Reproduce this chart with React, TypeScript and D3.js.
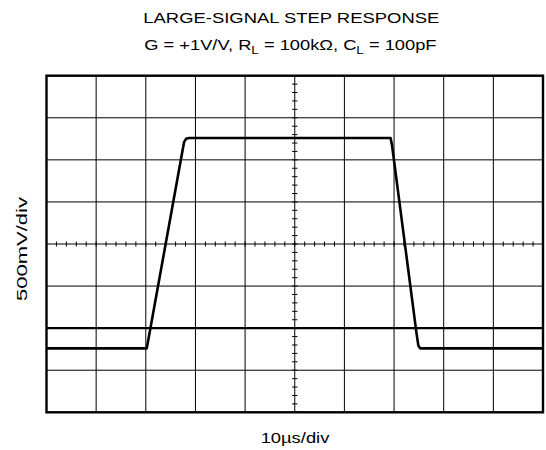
import React, { useRef, useLayoutEffect, useState } from 'react';
import * as d3 from 'd3';

// Output trace (time in µs, voltage in V, 0 V at screen centre)
const timeUs = [0, 20.2, 27.7, 28.1, 28.7, 69.3, 69.6, 74.5, 74.9, 75.25, 100];
const outputV = [-1.24, -1.24, 1.21, 1.25, 1.26, 1.26, 1.17, -1.05, -1.21, -1.24, -1.24];
// Second (reference) trace
const refTimeUs = [0, 100];
const refV = [-1.0, -1.0];

const xDomain = [0, 100];
const yDomain = [-2, 2];
const xDivs = d3.range(0, 100.001, 10);
const yDivs = d3.range(-2, 2.001, 0.5);
const xMinor = d3.range(0, 100.001, 2);
const yMinor = d3.range(-2, 2.001, 0.1);

const title = 'LARGE-SIGNAL STEP RESPONSE';
const xLabel = '10\u00b5s/div';
const yLabel = '500mV/div';

const W = 546, H = 450;
const P = { left: 46.5, right: 543, top: 75.7, bottom: 412.3 };
const FONT = '"Liberation Sans", Arial, Helvetica, sans-serif';

function Subtitle() {
  const ref = useRef<SVGTextElement>(null);
  const [s, setS] = useState(1);
  useLayoutEffect(() => {
    if (ref.current) {
      const w = ref.current.getBBox().width;
      if (w > 0) setS(292.7 / w);
    }
  }, []);
  return (
    <g transform={`translate(290.4,50) scale(${s},1)`}>
      <text ref={ref} textAnchor="middle" fontSize={15} fontFamily={FONT} fill="#000">
        G = +1V/V, R<tspan fontSize={11} dy={3.5}>L</tspan>
        <tspan dy={-3.5}>{' = 100k\u03a9, C'}</tspan>
        <tspan fontSize={11} dy={3.5}>L</tspan>
        <tspan dy={-3.5}>{' = 100pF'}</tspan>
      </text>
    </g>
  );
}

export default function App() {
  const x = d3.scaleLinear().domain(xDomain).range([P.left, P.right]);
  const y = d3.scaleLinear().domain(yDomain).range([P.bottom, P.top]);
  const line = d3.line<[number, number]>().x(d => x(d[0])).y(d => y(d[1]));
  const out = line(timeUs.map((t, i) => [t, outputV[i]]));
  const ref = line(refTimeUs.map((t, i) => [t, refV[i]]));
  const cx = x(50), cy = y(0);

  return (
    <svg width={W} height={H} style={{ position: 'absolute', left: 0, top: 0, background: '#fff' }}>
      <rect x={0} y={0} width={W} height={H} fill="#fff" />
      <text x={291.3} y={23.3} textAnchor="middle" fontSize={15} fontFamily={FONT}
        textLength={296} lengthAdjust="spacingAndGlyphs">{title}</text>
      <Subtitle />
      {/* grid */}
      {xDivs.map(v => (
        <line key={'vx' + v} x1={x(v)} x2={x(v)} y1={P.top} y2={P.bottom} stroke="#000" strokeWidth={1} />
      ))}
      {yDivs.map(v => (
        <line key={'hy' + v} x1={P.left} x2={P.right} y1={y(v)} y2={y(v)} stroke="#000" strokeWidth={1} />
      ))}
      {/* minor ticks on centre axes */}
      {xMinor.map(v => (
        <line key={'tx' + v} x1={x(v)} x2={x(v)} y1={cy - 2.5} y2={cy + 2.5} stroke="#000" strokeWidth={1} />
      ))}
      {yMinor.map(v => (
        <line key={'ty' + v} x1={cx - 2.7} x2={cx + 2.7} y1={y(v)} y2={y(v)} stroke="#000" strokeWidth={1} />
      ))}
      {/* traces */}
      <path d={ref ?? ''} fill="none" stroke="#000" strokeWidth={2.2} />
      <path d={out ?? ''} fill="none" stroke="#000" strokeWidth={2.6} strokeLinejoin="round" />
      {/* frame */}
      <rect x={P.left} y={P.top} width={P.right - P.left} height={P.bottom - P.top} fill="none" stroke="#000" strokeWidth={2.4} />
      {/* axis labels */}
      <text x={295} y={443.3} textAnchor="middle" fontSize={15} fontFamily={FONT}
        textLength={68.7} lengthAdjust="spacingAndGlyphs">{xLabel}</text>
      <text transform="translate(26.7,249) rotate(-90)" textAnchor="middle" fontSize={15} fontFamily={FONT}
        textLength={104} lengthAdjust="spacingAndGlyphs">{yLabel}</text>
    </svg>
  );
}
